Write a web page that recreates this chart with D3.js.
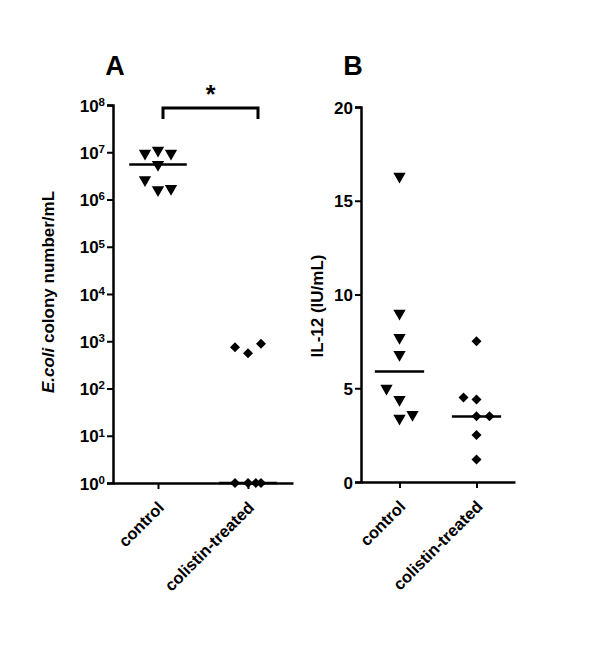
<!DOCTYPE html>
<html>
<head>
<meta charset="utf-8">
<script src="https://cdn.jsdelivr.net/npm/d3@7"></script>
<style>
  body { margin: 0; background: #fff; }
  text { font-family: "Liberation Sans", Arial, sans-serif; font-weight: bold; }
</style>
</head>
<body>
<svg></svg>
<script>
const width = 600, height = 648;
const groups = ["control", "colistin-treated"];

// panel A: E.coli colony number/mL (log scale)
const ecoliControl = [9.5e6, 1.1e7, 9.5e6, 5.5e6, 2.6e6, 1.6e6, 1.7e6];
const ecoliControlJit = [-1, 0, 1, 0, -1, 0, 1];
const ecoliColistin = [750, 560, 880, 1, 1, 1, 1];
const ecoliColistinJit = [-1, 0, 1, -1, 0, 0.6, 1];
const logTicks = [1, 10, 100, 1e3, 1e4, 1e5, 1e6, 1e7, 1e8];

// panel B: IL-12 (IU/mL)
const il12Control = [16.3, 9.0, 7.7, 6.8, 5.0, 4.4, 3.4, 3.6];
const il12ControlJit = [0, 0, 0, 0, -1, 0, 0, 1];
const il12Colistin = [7.5, 4.5, 4.4, 3.5, 3.5, 2.5, 1.2];
const il12ColistinJit = [0, -1, 0, 0, 1, 0, 0];
const linTicks = [0, 5, 10, 15, 20];

const svg = d3.select("svg").attr("width", width).attr("height", height);

const median = arr => d3.median(arr);
const tri = d3.symbol().type(d3.symbolTriangle).size(66);
const dia = d3.symbol().type(d3.symbolSquare).size(50);

function drawAxes(g, x, y, ticks, fmt) {
    const yAx = g.append("g")
        .attr("transform", `translate(${x.range()[0]},0)`)
        .call(d3.axisLeft(y).tickValues(ticks).tickSize(6).tickFormat(""));
    yAx.select(".domain").attr("stroke-width", 2.5);
    yAx.selectAll(".tick line").attr("stroke-width", 2);
    yAx.selectAll(".tick").append("text")
        .attr("x", -8).attr("dy", "0.36em")
        .attr("text-anchor", "end").attr("fill", "#000")
        .style("font-size", "17px")
        .each(function (d) { fmt(d3.select(this), d); });

    const xAx = g.append("g")
        .attr("transform", `translate(0,${y.range()[0]})`)
        .call(d3.axisBottom(x).tickSize(6).tickSizeOuter(0));
    xAx.select(".domain").attr("stroke-width", 2.5);
    xAx.selectAll(".tick line").attr("stroke-width", 2);
    xAx.selectAll(".tick text")
        .style("font-size", "16.5px").attr("fill", "#000")
        .attr("text-anchor", "end")
        .attr("transform", "translate(-8,11) rotate(-45)")
        .attr("dy", "0.7em");
}

function drawGroup(g, x, y, cat, vals, jit, sym, rot) {
    const cx = x(cat);
    g.selectAll(null).data(vals).enter().append("path")
        .attr("d", sym)
        .attr("fill", "#000")
        .attr("transform", (d, i) => `translate(${cx + jit[i] * 13},${y(d)}) rotate(${rot})`);
    const w = x.step() * 0.32;
    g.append("line")
        .attr("x1", cx - w).attr("x2", cx + w)
        .attr("y1", y(median(vals))).attr("y2", y(median(vals)))
        .attr("stroke", "#000").attr("stroke-width", 2.5);
}

// ----- panel A -----
const xA = d3.scalePoint().domain(groups).range([113, 293]).padding(0.5);
const yA = d3.scaleLog().domain([1, 1e8]).range([483, 105]);
const gA = svg.append("g");
drawAxes(gA, xA, yA, logTicks, (t, d) => {
    t.text("10");
    t.append("tspan").attr("dy", "-0.5em").style("font-size", "11.5px")
        .text(Math.round(Math.log10(d)));
});
drawGroup(gA, xA, yA, "control", ecoliControl, ecoliControlJit, tri, 180);
drawGroup(gA, xA, yA, "colistin-treated", ecoliColistin, ecoliColistinJit, dia, 45);

// significance bracket
const bx1 = xA("control") + 5, bx2 = xA("colistin-treated") + 10;
gA.append("path")
    .attr("d", `M${bx1},119 V108 H${bx2} V119`)
    .attr("fill", "none").attr("stroke", "#000").attr("stroke-width", 3);
gA.append("text").attr("x", (bx1 + bx2) / 2).attr("y", 103)
    .attr("text-anchor", "middle").style("font-size", "25px").text("*");

gA.append("text").attr("x", 115).attr("y", 75).attr("text-anchor", "middle")
    .style("font-size", "27px").text("A");
const labA = gA.append("text")
    .attr("transform", "translate(54,292) rotate(-90)")
    .attr("text-anchor", "middle").style("font-size", "17px");
labA.append("tspan").style("font-style", "italic").text("E.coli");
labA.append("tspan").text(" colony number/mL");

// ----- panel B -----
const xB = d3.scalePoint().domain(groups).range([361, 515]).padding(0.5);
const yB = d3.scaleLinear().domain([0, 20]).range([482, 107]);
const gB = svg.append("g");
drawAxes(gB, xB, yB, linTicks, (t, d) => t.text(d));
drawGroup(gB, xB, yB, "control", il12Control, il12ControlJit, tri, 180);
drawGroup(gB, xB, yB, "colistin-treated", il12Colistin, il12ColistinJit, dia, 45);

gB.append("text").attr("x", 353).attr("y", 75).attr("text-anchor", "middle")
    .style("font-size", "27px").text("B");
gB.append("text")
    .attr("transform", "translate(323,306) rotate(-90)")
    .attr("text-anchor", "middle").style("font-size", "17px")
    .text("IL-12 (IU/mL)");
</script>
</body>
</html>
